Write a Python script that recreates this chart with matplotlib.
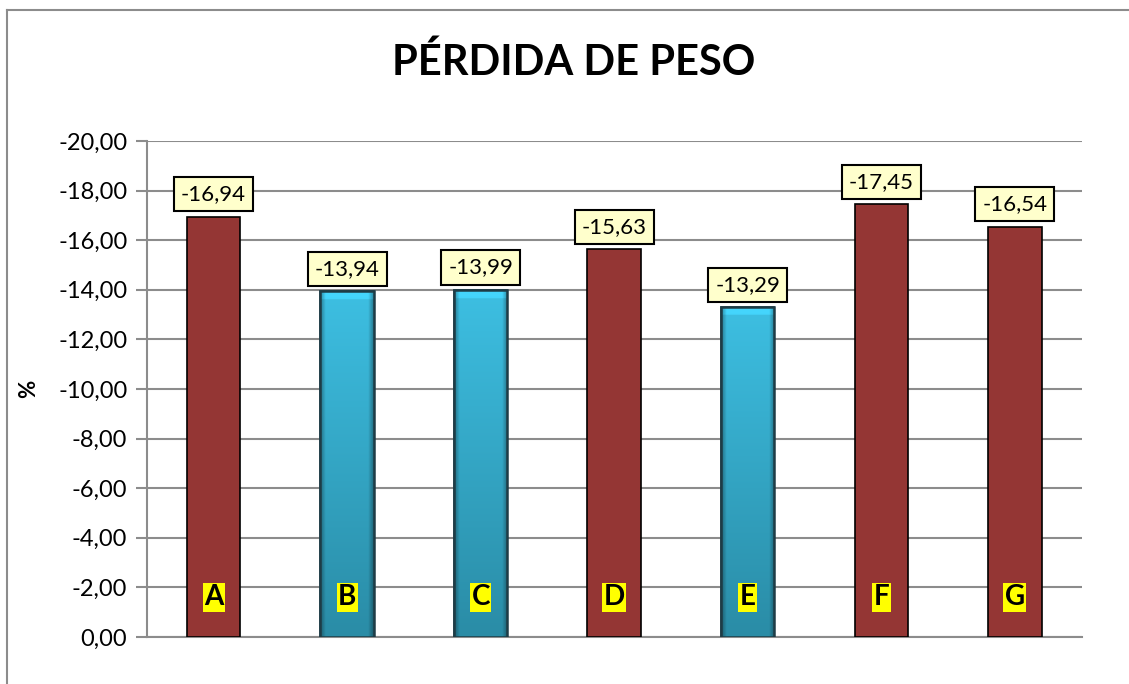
import numpy as np
import matplotlib
matplotlib.use("Agg")
import matplotlib.pyplot as plt
from matplotlib.patches import Rectangle
from matplotlib.lines import Line2D
from matplotlib.ticker import FuncFormatter

plt.rcParams['font.family'] = ['Lato', 'DejaVu Sans']

categories = ['A', 'B', 'C', 'D', 'E', 'F', 'G']
values = [-16.94, -13.94, -13.99, -15.63, -13.29, -17.45, -16.54]
is_blue = [False, True, True, False, True, False, False]

red = '#943634'

fig = plt.figure(figsize=(11.29, 6.84), dpi=100)
# outer chart border (top and left edges visible)
bx, by = 7 / 1129, 1 - 10 / 684
fig.lines.append(Line2D([bx, 1.0], [by, by], transform=fig.transFigure, color='#8c8c8c', lw=1.5))
fig.lines.append(Line2D([bx, bx], [0, by], transform=fig.transFigure, color='#8c8c8c', lw=1.5))

ax = fig.add_axes([0.130, 0.0687, 0.828, 0.7252])

x = np.arange(len(categories))
bars = ax.bar(x, values, width=0.40, color=red, edgecolor='black', linewidth=1.2, zorder=3)

# gradient fill for the blue bars
grad = np.linspace(0, 1, 256).reshape(-1, 1)
side = np.linspace(-1, 1, 64)
for bar, blue in zip(bars, is_blue):
    if not blue:
        continue
    bar.set_facecolor('#2f9bb8')
    bar.set_edgecolor('#1e3c46')
    x0 = bar.get_x()
    w = bar.get_width()
    h = bar.get_height()
    top = np.array([0x3d, 0xbf, 0xe2]) / 255
    bot = np.array([0x2a, 0x8c, 0xa6]) / 255
    col = top * (1 - grad[..., None]) + bot * grad[..., None]
    col = np.repeat(col, 64, axis=1)
    shade = 1 - 0.35 * np.clip((np.abs(side) - 0.8) / 0.2, 0, 1)
    col = col * shade[None, :, None]
    col[:6] = np.clip(col[:6] * 1.12, 0, 1)
    im = ax.imshow(col, extent=[x0, x0 + w, 0, h], aspect='auto',
                   origin='upper', zorder=3.5, interpolation='bilinear')
    im.set_clip_path(bar)
    outline = Rectangle((x0, 0), w, h, fill=False, edgecolor='#1e3c46',
                        linewidth=1.8, zorder=4)
    ax.add_patch(outline)

ax.set_ylim(0, -20)
ax.set_xlim(-0.5, len(categories) - 0.5)
ax.set_yticks(np.arange(0, -20.1, -2))
ax.yaxis.set_major_formatter(FuncFormatter(lambda v, p: f"{v:.2f}".replace('.', ',').replace('-0,00', '0,00')))
ax.tick_params(axis='y', labelsize=17, length=8, color='#8c8c8c', width=1.5, pad=6)
ax.tick_params(axis='x', length=0, labelbottom=False)
ax.grid(axis='y', color='#8c8c8c', linewidth=1.5, zorder=0)
ax.set_axisbelow(True)
for s in ['top', 'right']:
    ax.spines[s].set_visible(False)
for s in ['left', 'bottom']:
    ax.spines[s].set_color('#8c8c8c')
    ax.spines[s].set_linewidth(1.5)

ax.set_ylabel('%', fontsize=16, fontweight='bold', labelpad=14)

for xi, v in zip(x, values):
    ax.annotate(f"{v:.2f}".replace('.', ','), (xi, v), xytext=(0, 9),
                textcoords='offset points', ha='center', va='bottom', fontsize=16,
                bbox=dict(boxstyle='square,pad=0.32', facecolor='#ffffcc',
                          edgecolor='black', linewidth=1.5), zorder=6)

for xi, c in zip(x, categories):
    ax.text(xi, -1.6, c, ha='center', va='center', fontsize=20, fontweight='bold',
            bbox=dict(boxstyle='square,pad=0.05', facecolor='yellow', edgecolor='none'),
            zorder=6)

fig.text(0.508, 0.909, 'PÉRDIDA DE PESO', ha='center', va='center',
         fontsize=30, fontweight='bold')

fig.savefig('out.png', dpi=100)
